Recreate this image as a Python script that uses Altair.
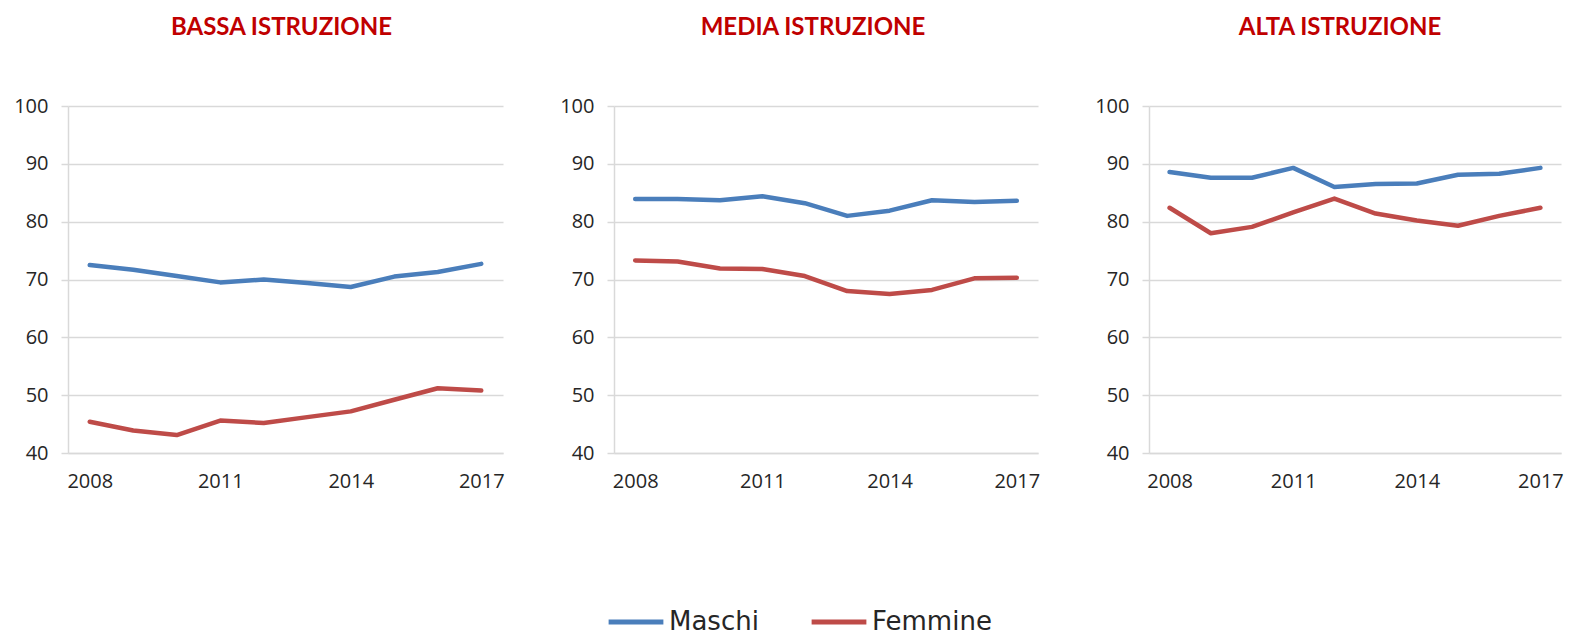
import altair as alt
import pandas as pd

years = [2008, 2009, 2010, 2011, 2012, 2013, 2014, 2015, 2016, 2017]
tick_years = [2008, 2011, 2014, 2017]
series = ["Maschi", "Femmine"]
colors = ["#4A7EBB", "#BE4B48"]
titles = ["BASSA ISTRUZIONE", "MEDIA ISTRUZIONE", "ALTA ISTRUZIONE"]

bassa_maschi = [72.5, 71.7, 70.6, 69.5, 70.0, 69.4, 68.7, 70.5, 71.3, 72.7]
bassa_femmine = [45.4, 43.9, 43.1, 45.6, 45.2, 46.2, 47.2, 49.2, 51.2, 50.8]
media_maschi = [83.9, 83.9, 83.7, 84.4, 83.2, 81.0, 81.9, 83.7, 83.4, 83.6]
media_femmine = [73.3, 73.1, 71.9, 71.8, 70.6, 68.0, 67.5, 68.2, 70.2, 70.3]
alta_maschi = [88.6, 87.6, 87.6, 89.3, 86.0, 86.5, 86.6, 88.1, 88.3, 89.3]
alta_femmine = [82.4, 78.0, 79.1, 81.6, 84.0, 81.4, 80.2, 79.3, 81.0, 82.4]

y_ticks = [40, 50, 60, 70, 80, 90, 100]

panel_data = [
    (bassa_maschi, bassa_femmine),
    (media_maschi, media_femmine),
    (alta_maschi, alta_femmine),
]
widths = [435, 424, 412]
title_dx = [-4, -13, -15]
title_offsets = [56, 56, 56]


def make_df(m, f):
    rows = []
    for y, v in zip(years, m):
        rows.append({"anno": y, "valore": v, "sesso": "Maschi"})
    for y, v in zip(years, f):
        rows.append({"anno": y, "valore": v, "sesso": "Femmine"})
    return pd.DataFrame(rows)


charts = []
for i, (m, f) in enumerate(panel_data):
    df = make_df(m, f)
    c = (
        alt.Chart(
            df,
            title=alt.TitleParams(
                titles[i],
                font="Lato",
                fontSize=24,
                fontWeight="bold",
                color="#C00000",
                anchor="middle",
                dx=title_dx[i],
                offset=title_offsets[i],
            ),
        )
        .mark_line(strokeWidth=4.5, strokeCap="round", strokeJoin="round")
        .encode(
            x=alt.X(
                "anno:O",
                scale=alt.Scale(padding=0.5),
                axis=alt.Axis(
                    values=tick_years,
                    labelAngle=0,
                    title=None,
                    ticks=False,
                    grid=False,
                    domainColor="#D9D9D9",
                    domainWidth=1.5,
                    labelPadding=18,
                ),
            ),
            y=alt.Y(
                "valore:Q",
                scale=alt.Scale(domain=[40, 100], nice=False, zero=False),
                axis=alt.Axis(
                    values=y_ticks,
                    title=None,
                    tickSize=7,
                    tickColor="#D9D9D9",
                    tickWidth=1.5,
                    gridColor="#D9D9D9",
                    gridWidth=1.5,
                    domainColor="#D9D9D9",
                    domainWidth=1.5,
                    labelPadding=13,
                ),
            ),
            color=alt.Color(
                "sesso:N",
                scale=alt.Scale(domain=series, range=colors),
                sort=series,
                legend=alt.Legend(
                    title=None,
                    orient="none",
                    legendX=538,
                    legendY=486,
                    direction="horizontal",
                    symbolType="stroke",
                    symbolSize=3000,
                    symbolStrokeWidth=5,
                    labelFont="DejaVu Sans",
                    labelFontSize=26,
                    labelColor="#262626",
                    labelOffset=3,
                    columnPadding=42,
                ),
            ),
        )
        .properties(width=widths[i], height=347)
    )
    charts.append(c)

chart = (
    alt.hconcat(*charts, spacing=54)
    .properties(padding={"left": 5, "top": 8, "right": 0, "bottom": 0})
    .configure_view(stroke=None)
    .configure_axis(
        labelFont="Open Sans",
        labelFontSize=20,
        labelColor="#262626",
    )
)

chart.save("out.html", embed_options={"renderer": "svg", "actions": False})
